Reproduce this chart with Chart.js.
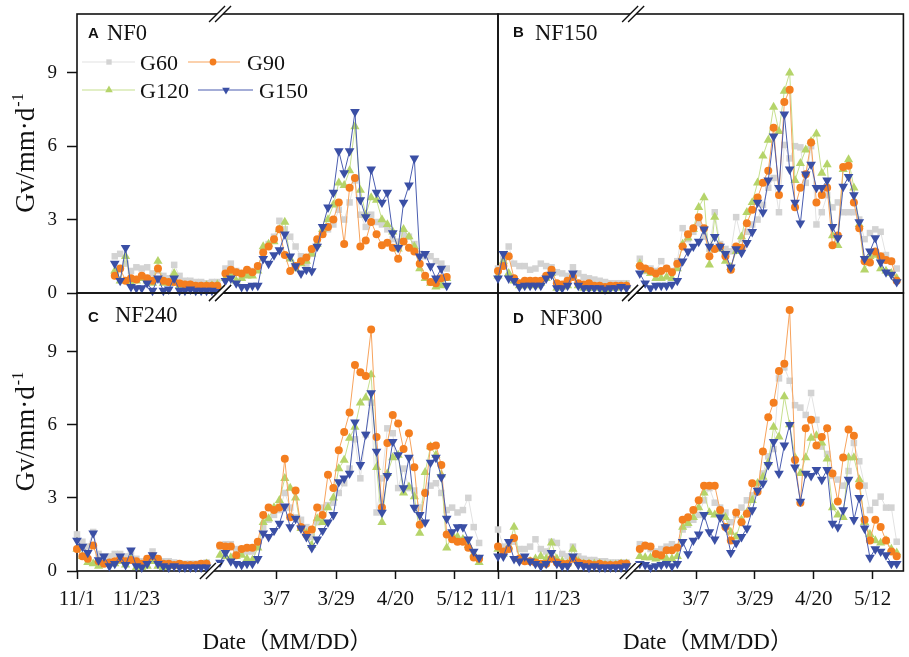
<!DOCTYPE html>
<html>
<head>
<meta charset="utf-8">
<script src="https://cdn.jsdelivr.net/npm/chart.js@4.4.1/dist/chart.umd.min.js"></script>
<style>
  html, body { margin: 0; padding: 0; background: #fff; }
  #wrap { position: relative; width: 909px; height: 657px; overflow: hidden; }
  #wrap canvas { position: absolute; left: 0; top: 0; }
</style>
</head>
<body>
<div id="wrap">
  <canvas id="panel-a" width="909" height="657"></canvas>
  <canvas id="panel-b" width="909" height="657"></canvas>
  <canvas id="panel-c" width="909" height="657"></canvas>
  <canvas id="panel-d" width="909" height="657"></canvas>
</div>
<script>
// 日期：冬季一段 + 春季一段，中間斷軸
const preDates = ['11/1','11/3','11/5','11/7','11/9','11/11','11/13','11/15','11/17','11/19','11/21','11/23','11/25','11/27','11/29',
  '12/1','12/3','12/5','12/7','12/9','12/11','12/13','12/15','12/17','12/19','12/21','12/23'];
const postDates = ['2/14','2/16','2/18','2/20','2/22','2/24','2/26','2/28',
  '3/2','3/4','3/6','3/8','3/10','3/12','3/14','3/16','3/18','3/20','3/22','3/24','3/26','3/28','3/30',
  '4/1','4/3','4/5','4/7','4/9','4/11','4/13','4/15','4/17','4/19','4/21','4/23','4/25','4/27','4/29',
  '5/1','5/3','5/5','5/7','5/9','5/11','5/13','5/15','5/17','5/19','5/21','5/23'];
const dates = preDates.concat(postDates);

const tickLabels = ['11/1', '11/23', '3/7', '3/29', '4/20', '5/12'];
const yTicks = [0, 3, 6, 9];
const seriesNames = ['G60', 'G90', 'G120', 'G150'];

// NF0（前 27 個為冬季，後 50 個為春季）
const nf0G60 = [null,null,null,null,null,null,null,1.5,1.6,1.2,0.9,1.05,1.0,1.05,0.8,0.9,0.7,0.6,1.15,0.7,0.5,0.5,0.45,0.45,0.4,0.45,0.45,
  null,1.0,1.2,0.9,0.75,0.8,0.9,1.0,1.7,2.0,2.3,2.95,2.6,2.3,1.9,1.5,1.2,1.6,2.1,2.4,2.6,2.8,3.4,3.0,3.7,4.6,3.2,2.7,3.2,2.9,2.8,2.6,2.2,2.1,2.4,2.3,2.0,1.6,1.5,1.5,1.3,1.2,1.0,null,null,null,null,null,null,null];
const nf0G90 = [null,null,null,null,null,null,null,0.7,1.0,0.5,0.6,0.55,0.7,0.6,0.5,1.0,0.5,0.45,0.45,0.4,0.35,0.35,0.3,0.3,0.3,0.3,0.3,
  null,0.8,0.95,0.85,0.8,0.95,0.85,1.1,1.65,1.9,2.2,2.6,1.55,0.9,1.1,1.3,1.45,1.8,2.2,2.4,2.7,3.0,3.7,2.0,4.3,4.7,1.9,2.15,2.9,2.4,1.95,2.05,1.85,1.4,2.1,1.85,1.7,1.2,0.7,0.45,0.4,0.6,0.65,null,null,null,null,null,null,null];
const nf0G120 = [null,null,null,null,null,null,null,0.9,0.5,1.5,0.4,0.5,0.6,0.5,0.4,1.3,0.4,0.4,0.8,0.3,0.3,0.3,0.25,0.25,0.3,0.3,0.35,
  null,0.6,0.7,0.5,0.6,0.7,0.7,0.9,1.9,2.0,2.1,2.6,2.9,1.4,1.0,1.2,1.3,1.6,2.0,2.6,3.0,3.6,4.5,4.4,5.0,6.8,4.2,3.2,3.9,3.8,3.0,2.8,2.5,1.8,2.6,2.3,1.9,1.0,0.6,0.4,0.25,0.3,0.6,null,null,null,null,null,null,null];
const nf0G150 = [null,null,null,null,null,null,null,1.2,0.5,1.85,0.25,0.2,0.2,0.4,0.1,0.6,0.1,0.15,0.6,0.1,0.1,0.15,0.1,0.1,0.1,0.1,0.05,
  null,0.5,0.6,0.4,0.25,0.25,0.3,0.3,1.4,1.2,1.55,1.75,2.4,1.5,1.1,0.8,0.95,0.9,1.9,2.7,3.5,4.1,5.8,4.9,5.8,7.4,3.8,3.1,5.05,4.1,3.7,4.1,2.45,1.85,3.7,4.4,5.5,1.5,1.6,1.1,0.6,1.0,0.3,null,null,null,null,null,null,null];

// NF150
const nf150G60 = [1.0,1.4,1.9,1.2,1.1,1.1,0.95,1.0,1.2,1.1,1.05,0.85,0.8,0.7,1.05,0.8,0.65,0.6,0.55,0.5,0.45,0.4,0.4,0.4,0.4,null,null,
  1.4,0.9,1.0,0.9,1.3,1.0,0.9,1.3,2.65,2.2,2.5,2.85,2.3,1.8,3.3,2.0,1.8,1.7,3.1,2.2,2.5,2.8,3.0,3.6,4.3,4.7,3.3,6.05,5.5,6.0,5.95,4.5,6.0,2.8,3.3,4.0,3.5,3.7,3.3,3.3,3.3,3.0,2.2,2.45,2.6,2.5,1.55,1.3,1.0,null];
const nf150G90 = [0.9,1.1,1.5,0.6,0.4,0.5,0.5,0.5,0.5,0.7,0.95,0.4,0.35,0.5,0.65,0.4,0.35,0.4,0.3,0.3,0.25,0.3,0.3,0.3,0.3,null,null,
  1.1,1.0,0.9,0.8,0.9,1.0,0.85,1.2,1.9,2.4,2.65,3.1,2.65,1.5,1.8,1.9,1.5,0.95,1.9,1.85,2.85,3.4,3.9,4.5,5.0,6.75,4.0,7.8,8.3,3.5,4.3,4.85,6.15,3.7,4.0,4.3,1.95,2.35,5.15,5.2,3.7,2.65,1.3,1.25,1.7,1.5,1.35,1.3,0.5,null];
const nf150G120 = [0.7,1.3,0.8,0.5,0.3,0.3,0.4,0.3,0.4,0.6,0.8,0.2,0.25,0.3,0.7,0.3,0.2,0.2,0.2,0.25,0.15,0.2,0.2,0.25,0.3,null,null,
  1.2,0.9,0.8,0.6,0.6,0.65,0.6,1.0,2.0,2.25,2.6,3.5,3.9,1.15,3.1,1.8,1.3,1.05,1.7,2.3,3.3,3.7,4.5,5.6,6.25,7.6,6.6,8.25,9.0,4.6,5.3,5.85,6.2,6.5,4.9,5.25,2.35,1.95,5.05,5.45,4.3,2.8,0.95,1.5,1.55,1.0,0.9,0.8,0.6,null];
const nf150G150 = [0.6,1.6,0.6,0.5,0.25,0.3,0.3,0.3,0.3,0.6,0.75,0.2,0.2,0.3,0.8,0.3,0.2,0.2,0.2,0.2,0.15,0.2,0.2,0.25,0.2,null,null,
  0.8,0.4,0.2,0.3,0.3,0.3,0.35,0.5,1.3,1.7,1.9,2.1,2.6,1.9,2.3,1.9,1.6,1.05,1.8,1.65,2.05,2.5,3.7,3.3,4.6,6.4,4.3,7.3,5.05,3.7,2.85,4.85,5.25,4.3,4.3,4.6,2.7,2.25,4.35,4.75,4.0,2.9,1.4,1.7,2.25,1.25,0.85,0.75,0.45,null];

// NF240
const nf240G60 = [1.5,1.2,1.0,1.6,0.7,0.6,0.6,0.7,0.7,0.6,0.8,0.5,0.4,0.5,0.8,0.5,0.4,0.4,0.35,0.3,0.3,0.3,0.3,0.3,0.35,null,null,
  1.0,1.1,1.1,0.9,0.85,0.8,0.8,1.0,1.8,2.1,2.3,2.5,3.2,2.6,2.2,2.1,1.8,1.4,2.0,2.6,2.7,2.8,3.2,3.6,4.2,5.4,3.8,5.6,6.9,2.4,3.8,5.85,5.65,3.4,4.2,3.4,3.3,2.6,3.25,3.5,3.6,3.2,2.5,2.6,2.4,2.5,3.0,1.8,1.15,null];
const nf240G90 = [0.9,0.6,0.5,1.05,0.4,0.3,0.35,0.4,0.5,0.4,0.45,0.4,0.3,0.5,0.6,0.5,0.3,0.3,0.25,0.3,0.25,0.25,0.25,0.3,0.3,null,null,
  1.05,1.0,1.0,0.65,0.9,0.95,0.95,1.2,2.3,2.6,2.5,2.6,4.6,2.2,3.3,1.8,1.5,1.7,2.6,2.3,3.95,3.4,4.95,5.7,6.5,8.45,8.15,8.0,9.9,5.5,2.6,5.25,6.4,6.05,5.0,5.65,4.25,1.9,3.2,5.1,5.15,4.35,1.5,1.3,1.2,1.2,0.95,0.55,0.5,null];
const nf240G120 = [0.9,0.6,0.35,0.3,0.2,0.3,0.3,0.3,0.4,0.25,0.5,0.15,0.15,0.2,0.4,0.2,0.15,0.2,0.2,0.2,0.2,0.2,0.2,0.2,0.3,null,null,
  0.65,0.6,0.55,0.6,0.65,0.5,0.45,0.95,2.0,2.15,2.6,2.9,3.8,3.4,3.0,1.75,1.55,1.05,2.15,2.0,2.6,3.0,4.2,4.55,5.45,5.9,6.9,7.1,8.05,4.25,2.0,4.0,4.65,4.75,3.2,3.45,3.05,1.55,4.05,5.1,4.75,3.95,0.95,1.5,1.4,1.3,1.05,0.7,0.35,null];
const nf240G150 = [1.25,1.0,0.75,1.55,0.45,0.6,0.2,0.3,0.6,0.25,0.85,0.2,0.15,0.3,0.65,0.3,0.2,0.15,0.2,0.15,0.15,0.15,0.15,0.15,0.15,null,null,
  0.35,0.75,0.4,0.3,0.25,0.3,0.3,0.5,1.55,1.4,1.65,1.95,2.65,1.8,2.15,1.75,1.4,0.95,1.3,1.65,2.0,2.3,3.65,3.8,4.0,6.1,4.35,5.6,7.3,4.9,2.4,3.9,5.3,4.75,3.4,4.65,2.6,2.3,2.0,4.45,4.65,3.85,2.15,1.6,1.8,1.8,1.3,0.8,0.55,null];

// NF300
const nf300G60 = [1.7,1.0,1.1,1.2,0.9,0.9,1.0,1.3,0.9,0.8,1.2,1.15,0.7,0.6,1.0,0.6,0.5,0.45,0.45,0.4,0.4,0.35,0.35,0.35,0.35,null,null,
  1.1,1.0,0.9,0.8,0.9,1.0,1.1,1.0,1.7,1.9,2.1,2.3,2.9,3.4,2.8,2.6,2.4,2.0,2.3,2.6,2.9,3.1,3.4,4.0,4.7,5.0,7.9,8.35,7.8,6.8,6.7,6.4,7.3,6.2,5.1,4.8,3.9,3.75,3.5,4.1,5.25,4.5,3.5,2.5,2.8,3.05,2.6,2.6,1.2,null];
const nf300G90 = [1.0,0.8,0.9,1.35,0.5,0.4,0.4,0.35,0.3,0.3,0.5,0.35,0.3,0.3,0.5,0.35,0.3,0.3,0.25,0.3,0.25,0.25,0.25,0.3,0.3,null,null,
  0.9,1.05,1.0,0.7,0.65,0.85,0.85,0.95,2.1,2.2,2.5,2.9,3.5,3.5,3.5,2.5,1.8,1.25,2.4,2.0,2.35,3.6,3.25,4.9,6.3,6.9,8.2,8.5,10.7,4.55,2.8,5.85,6.2,5.15,5.5,5.85,4.0,2.85,4.65,5.8,5.55,3.5,2.1,1.25,2.1,1.8,1.25,0.8,0.6,null];
const nf300G120 = [0.9,0.7,1.0,1.8,0.5,0.4,0.4,0.5,0.6,0.5,1.15,0.5,0.4,0.3,0.9,0.4,0.3,0.3,0.3,0.3,0.25,0.25,0.25,0.3,0.3,null,null,
  0.6,0.55,0.55,0.5,0.55,0.5,0.5,0.6,1.8,1.95,2.2,2.6,3.2,2.4,2.3,2.35,2.2,1.6,1.4,2.1,2.4,2.9,3.6,3.85,4.45,5.9,5.5,7.15,6.0,4.65,4.0,4.65,5.45,5.55,5.25,4.6,2.6,2.3,2.2,4.65,4.65,3.75,2.0,1.5,1.25,1.15,1.25,0.9,0.75,null];
const nf300G150 = [0.6,0.6,1.2,0.5,0.4,0.6,0.4,0.3,0.2,0.3,0.75,0.3,0.2,0.2,0.6,0.25,0.2,0.15,0.2,0.15,0.15,0.15,0.15,0.15,0.2,null,null,
  0.3,0.25,0.15,0.2,0.25,0.3,0.2,0.3,1.2,0.7,1.25,1.5,2.3,1.6,1.3,2.2,1.8,0.75,1.15,1.4,1.75,2.5,3.3,3.6,4.35,5.3,4.0,5.15,6.0,4.25,2.85,4.0,3.9,4.15,3.75,4.15,1.95,1.8,2.5,3.75,2.1,3.0,1.75,0.55,0.9,0.8,0.65,0.3,0.3,null];

// 斷軸換算：11/1 為 0，3/7 落在 74
const monthStart = { 1: 0, 2: 31, 3: 59, 4: 90, 5: 120 };
function datePos(label) {
  const [m, d] = label.split('/').map(Number);
  if (m >= 11) {
    return (m === 11 ? 0 : 30) + d - 1;
  }
  return monthStart[m] + d - 66 + 74;
}

const seriesStyles = [
  { line: '#e2e2e2', fill: '#d3d3d3', point: 'rect', radius: 4.6, rotation: 0, order: 4 },
  { line: '#f7a35c', fill: '#f47e1f', point: 'circle', radius: 4, rotation: 0, order: 2 },
  { line: '#c6df8e', fill: '#b5d46a', point: 'triangle', radius: 5.3, rotation: 0, order: 3 },
  { line: '#4a5db0', fill: '#3a4fa5', point: 'triangle', radius: 5.6, rotation: 180, order: 1 }
];

const serif = '"Liberation Serif", "Times New Roman", "Noto Sans CJK SC", serif';
const sans = '"Liberation Sans", Arial, sans-serif';

const panels = [
  { canvas: 'panel-a', tag: 'A', name: 'NF0', series: [nf0G60, nf0G90, nf0G120, nf0G150],
    area: { left: 77, top: 14, right: 498, bottom: 293 }, xMax: 156, yAxis: true, xAxis: false,
    breaks: [53, 53], tagPos: [88, 38], namePos: [107, 40], legend: true },
  { canvas: 'panel-b', tag: 'B', name: 'NF150', series: [nf150G60, nf150G90, nf150G120, nf150G150],
    area: { left: 498, top: 14, right: 907, bottom: 293 }, xMax: 151.5, yAxis: false, xAxis: false,
    breaks: [50.5, 50.5], tagPos: [513, 37], namePos: [535, 40], legend: false },
  { canvas: 'panel-c', tag: 'C', name: 'NF240', series: [nf240G60, nf240G90, nf240G120, nf240G150],
    area: { left: 77, top: 293, right: 498, bottom: 571 }, xMax: 156, yAxis: true, xAxis: true,
    breaks: [53, 49.6], tagPos: [88, 322], namePos: [115, 322], legend: false, titleX: 287.5 },
  { canvas: 'panel-d', tag: 'D', name: 'NF300', series: [nf300G60, nf300G90, nf300G120, nf300G150],
    area: { left: 498, top: 293, right: 907, bottom: 571 }, xMax: 151.5, yAxis: false, xAxis: true,
    breaks: [50.5, 49.6], tagPos: [513, 323], namePos: [540, 325], legend: false, titleX: 708 }
];

const legendItems = [
  { x1: 82, x2: 135, mx: 109, tx: 140, y: 62 },
  { x1: 188, x2: 240, mx: 213, tx: 247, y: 62 },
  { x1: 82, x2: 135, mx: 109, tx: 140, y: 90 },
  { x1: 198, x2: 253, mx: 226, tx: 259, y: 90 }
];

function drawMarker(ctx, style, x, y, r) {
  ctx.fillStyle = style.fill;
  ctx.beginPath();
  if (style.point === 'rect') {
    const s = r * Math.SQRT1_2;
    ctx.rect(x - s, y - s, 2 * s, 2 * s);
  } else if (style.point === 'circle') {
    ctx.arc(x, y, r, 0, Math.PI * 2);
  } else {
    const dir = style.rotation ? -1 : 1;
    ctx.moveTo(x, y - dir * r);
    ctx.lineTo(x + 0.866 * r, y + dir * 0.5 * r);
    ctx.lineTo(x - 0.866 * r, y + dir * 0.5 * r);
    ctx.closePath();
  }
  ctx.fill();
}

function drawBreak(ctx, x, y) {
  ctx.save();
  ctx.fillStyle = '#fff';
  ctx.beginPath();
  ctx.moveTo(x - 11, y + 8);
  ctx.lineTo(x + 5, y - 8);
  ctx.lineTo(x + 11, y - 8);
  ctx.lineTo(x - 5, y + 8);
  ctx.closePath();
  ctx.fill();
  ctx.strokeStyle = '#111';
  ctx.lineWidth = 1.4;
  ctx.beginPath();
  ctx.moveTo(x - 11, y + 8); ctx.lineTo(x + 5, y - 8);
  ctx.moveTo(x - 5, y + 8); ctx.lineTo(x + 11, y - 8);
  ctx.stroke();
  ctx.restore();
}

function makeDecor(p) {
  return {
    id: 'decor',
    beforeDatasetsDraw(chart) {
      const { ctx, chartArea: a } = chart;
      ctx.save();
      ctx.strokeStyle = '#111';
      ctx.lineWidth = 1.6;
      ctx.strokeRect(a.left, a.top, a.right - a.left, a.bottom - a.top);
      ctx.restore();
    },
    afterDatasetsDraw(chart) {
      const { ctx, chartArea: a } = chart;
      const xs = chart.scales.x;
      ctx.save();
      if (p.breaks[0] !== null) drawBreak(ctx, xs.getPixelForValue(p.breaks[0]), a.top);
      if (p.breaks[1] !== null) drawBreak(ctx, xs.getPixelForValue(p.breaks[1]), a.bottom);

      ctx.fillStyle = '#111';
      ctx.textBaseline = 'alphabetic';
      ctx.textAlign = 'left';
      ctx.font = 'bold 15px ' + sans;
      ctx.fillText(p.tag, p.tagPos[0], p.tagPos[1]);
      ctx.font = '22.5px ' + serif;
      ctx.fillText(p.name, p.namePos[0], p.namePos[1]);

      if (p.legend) {
        legendItems.forEach((it, i) => {
          const st = seriesStyles[i];
          ctx.strokeStyle = st.line;
          ctx.lineWidth = 1.2;
          ctx.beginPath();
          ctx.moveTo(it.x1, it.y);
          ctx.lineTo(it.x2, it.y);
          ctx.stroke();
          drawMarker(ctx, st, it.mx, it.y, st.point === 'circle' ? 3.4 : st.point === 'rect' ? 3.8 : 4.4);
          ctx.fillStyle = '#111';
          ctx.font = '22px ' + serif;
          ctx.fillText(seriesNames[i], it.tx, it.y + 7.5);
        });
      }

      if (p.yAxis) {
        const cy = (a.top + a.bottom) / 2;
        ctx.translate(34, cy);
        ctx.rotate(-Math.PI / 2);
        ctx.fillStyle = '#111';
        ctx.font = '27px ' + serif;
        const main = 'Gv/mm·d';
        const w1 = ctx.measureText(main).width;
        ctx.font = '16px ' + serif;
        const w2 = ctx.measureText('-1').width;
        const start = -(w1 + w2) / 2;
        ctx.font = '27px ' + serif;
        ctx.fillText(main, start, 0);
        ctx.font = '16px ' + serif;
        ctx.fillText('-1', start + w1 + 1, -11);
        ctx.setTransform(1, 0, 0, 1, 0, 0);
      }

      if (p.xAxis) {
        ctx.fillStyle = '#111';
        ctx.font = '23px ' + serif;
        ctx.textAlign = 'center';
        ctx.fillText('Date（MM/DD）', p.titleX, 649);
      }
      ctx.restore();
    }
  };
}

panels.forEach(p => {
  const datasets = p.series.map((vals, i) => {
    if (vals.length !== dates.length) console.warn(p.name, seriesNames[i], vals.length);
    const st = seriesStyles[i];
    return {
      label: seriesNames[i],
      data: dates.map((d, k) => ({ x: datePos(d), y: vals[k] })),
      borderColor: st.line,
      borderWidth: 1,
      backgroundColor: st.fill,
      pointBackgroundColor: st.fill,
      pointBorderColor: st.fill,
      pointBorderWidth: 0,
      pointStyle: st.point,
      pointRadius: st.radius,
      pointRotation: st.rotation,
      order: st.order,
      tension: 0,
      spanGaps: false,
      clip: false
    };
  });

  const xHeight = 45;
  new Chart(document.getElementById(p.canvas), {
    type: 'line',
    data: { datasets },
    plugins: [makeDecor(p)],
    options: {
      responsive: false,
      animation: false,
      devicePixelRatio: 1,
      events: [],
      layout: {
        padding: {
          left: p.yAxis ? 0 : p.area.left,
          right: 909 - p.area.right,
          top: p.area.top,
          bottom: 657 - p.area.bottom - (p.xAxis ? xHeight : 0)
        }
      },
      plugins: { legend: { display: false }, tooltip: { enabled: false } },
      scales: {
        x: {
          type: 'linear',
          min: 0,
          max: p.xMax,
          display: p.xAxis,
          afterFit: s => {
            if (p.xAxis) s.height = xHeight;
            s.paddingLeft = 0;
            s.paddingRight = 0;
          },
          afterBuildTicks: s => { s.ticks = tickLabels.map(t => ({ value: datePos(t) })); },
          border: { display: false },
          grid: { drawOnChartArea: false, drawTicks: true, tickLength: 8, tickWidth: 1.5, tickColor: '#111' },
          ticks: {
            autoSkip: false,
            maxRotation: 0,
            padding: 8,
            color: '#111',
            font: { family: serif, size: 21 },
            callback: (v, i) => tickLabels[i]
          }
        },
        y: {
          type: 'linear',
          min: 0,
          max: 11.4,
          display: p.yAxis,
          afterFit: s => {
            if (p.yAxis) s.width = 77;
            s.paddingTop = 0;
            s.paddingBottom = 0;
          },
          afterBuildTicks: s => { s.ticks = yTicks.map(v => ({ value: v })); },
          border: { display: false },
          grid: { drawOnChartArea: false, drawTicks: true, tickLength: 10, tickWidth: 1.5, tickColor: '#111' },
          ticks: {
            padding: 10,
            color: '#111',
            font: { family: serif, size: 19 },
            callback: v => v
          }
        }
      }
    }
  });
});
</script>
</body>
</html>
